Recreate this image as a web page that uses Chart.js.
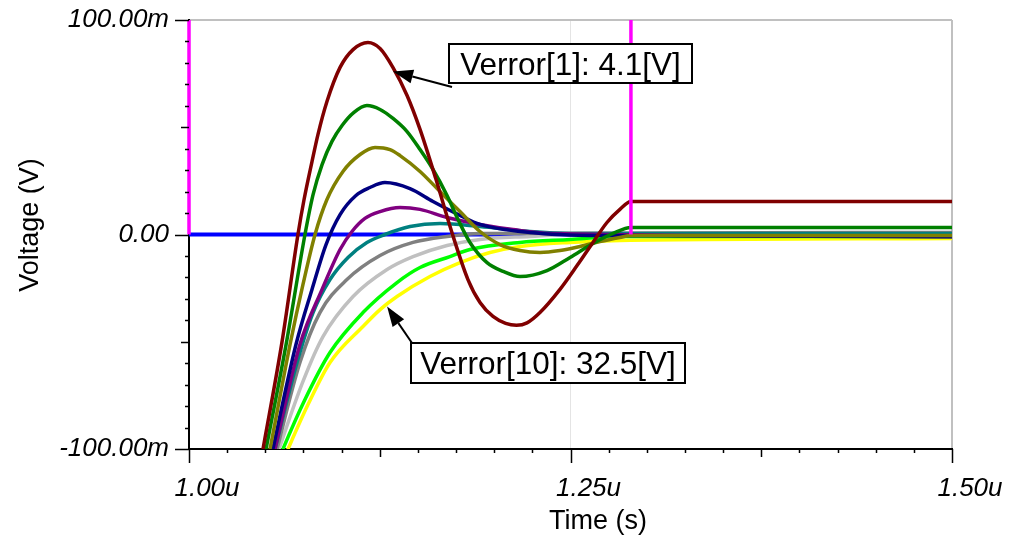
<!DOCTYPE html>
<html>
<head>
<meta charset="utf-8">
<script src="https://cdn.jsdelivr.net/npm/chart.js@4.4.0/dist/chart.umd.min.js"></script>
<style>
  html, body { margin: 0; padding: 0; background: #fff; }
  #wrap { width: 1012px; height: 544px; }
</style>
</head>
<body>
<div id="wrap"><canvas id="myChart" width="1012" height="544"></canvas></div>
<script>
// time in us, voltage in mV
const verror1 = [[1.046,-110],[1.0485,-100],[1.0609,-50.3],[1.0714,0],[1.0754,16.3],[1.0806,34],[1.0845,46.6],[1.0904,62],[1.099,77.9],[1.1075,86.2],[1.1173,89.5],[1.1252,86.7],[1.1337,77.8],[1.1429,64.8],[1.1514,49],[1.1619,25.6],[1.1723,0.9],[1.1828,-21],[1.1907,-31.7],[1.1992,-38.2],[1.2075,-41.4],[1.2146,-42.3],[1.2215,-41.2],[1.23,-36.4],[1.2431,-25.6],[1.2543,-14.5],[1.2647,-3.7],[1.2739,5.6],[1.2824,11.7],[1.2896,15.4],[1.5,15.4]];
const verror2 = [[1.0478,-110],[1.0505,-100],[1.0642,-49],[1.076,0],[1.0813,18.6],[1.0872,32.6],[1.0937,43.4],[1.1003,50.8],[1.1081,56.9],[1.1166,60.1],[1.1252,58.3],[1.1337,54.1],[1.1429,48],[1.1514,39.6],[1.1599,30.3],[1.1691,18.2],[1.1763,7],[1.1841,-3.7],[1.1953,-13.1],[1.2058,-17.2],[1.2169,-19.6],[1.2346,-16.8],[1.2497,-10.7],[1.2647,-4.2],[1.2779,0.5],[1.2896,3.3],[1.5,3.3]];
const verror3 = [[1.0503,-110],[1.0531,-100],[1.0662,-51.3],[1.0747,-23.3],[1.0826,0],[1.0904,16.3],[1.1009,29.4],[1.1121,37.3],[1.1219,40.6],[1.1317,39.6],[1.1383,36.8],[1.1514,29.4],[1.1645,20],[1.1776,10.7],[1.1907,1.4],[1.2038,-4.7],[1.2169,-7.5],[1.23,-8.4],[1.2431,-7.5],[1.2562,-5.6],[1.2693,-3.3],[1.2824,-1.4],[1.2896,-0.5],[1.5,-0.5]];
const verror4 = [[1.052,-110],[1.055,-100],[1.0701,-51.3],[1.0806,-25.6],[1.0898,-4.7],[1.099,9.3],[1.1094,18.2],[1.1186,21.9],[1.1284,24.2],[1.1448,21.4],[1.1599,15.4],[1.1776,8.9],[1.1907,4.7],[1.2235,0.9],[1.2693,-0.5],[1.5,-1]];
const verror5 = [[1.0532,-110],[1.0564,-100],[1.0727,-51.3],[1.0872,-25.6],[1.099,-7],[1.1068,1.4],[1.1153,7.5],[1.1252,10.7],[1.1383,12.6],[1.1514,11.7],[1.1691,7.9],[1.1907,4.7],[1.2123,2.3],[1.2366,0.5],[1.5,-0.9]];
const verror6 = [[1.0529,-110],[1.0564,-100],[1.0708,-59.7],[1.0813,-36.4],[1.0924,-21],[1.1042,-10.7],[1.1166,-3.7],[1.1284,0],[1.1448,3.7],[1.1645,5.1],[1.1907,3.7],[1.2235,1.4],[1.2497,0.5],[1.5,0.5]];
const verror7 = [[1.0542,-110],[1.0577,-100],[1.0727,-59.7],[1.0858,-36.4],[1.1035,-21],[1.1252,-9.8],[1.1468,-3.7],[1.1691,-0.9],[1.1907,0.5],[1.5,0.9]];
const verror8 = [[1.0543,-110],[1.059,-100],[1.0747,-68.5],[1.0878,-47.6],[1.1075,-28.9],[1.1298,-16.3],[1.1468,-10.3],[1.1691,-5.1],[1.1907,-2.3],[1.2235,-0.9],[1.2497,0],[1.5,0]];
const verror9 = [[1.0561,-110],[1.0616,-100],[1.076,-76.9],[1.0924,-55],[1.114,-36.4],[1.1363,-22.4],[1.1514,-15.4],[1.171,-10.3],[1.1841,-7],[1.2169,-3.7],[1.2497,-2.3],[1.2824,-0.9],[1.5,-0.9]];
const verror10 = [[1.0589,-110],[1.0649,-100],[1.078,-79.3],[1.0924,-59.7],[1.114,-42.9],[1.1252,-35],[1.1363,-28.9],[1.1579,-19.6],[1.1776,-13.1],[1.1972,-8.4],[1.2169,-5.6],[1.2497,-3.7],[1.2824,-2.8],[1.5,-1.9]];
const zeroRef = [[1.0,0],[1.5,0]];
const cursorA = [[1.0,0],[1.0,100]];
const cursorB = [[1.2896,0],[1.2896,100]];

const seriesNames = ['Verror[1]','Verror[2]','Verror[3]','Verror[4]','Verror[5]','Verror[6]','Verror[7]','Verror[8]','Verror[9]','Verror[10]'];
const seriesData = [verror1, verror2, verror3, verror4, verror5, verror6, verror7, verror8, verror9, verror10];
const seriesColors = ['#800000','#008000','#808000','#000080','#800080','#008080','#808080','#c0c0c0','#00ff00','#ffff00'];

const xTickValues = [1.0, 1.25, 1.5];
const xTickText = ['1.00u', '1.25u', '1.50u'];
const yTickValues = [-100, 0, 100];
const yTickText = ['-100.00m', '0.00', '100.00m'];

const callouts = [
  { text: 'Verror[1]: 4.1[V]', tip: [1.1337, 76], tail: [452, 87], box: [449, 44, 243, 39] },
  { text: 'Verror[10]: 32.5[V]', tip: [1.1298, -33.6], tail: [412, 343], box: [411, 343, 274, 40] }
];

const FONT = '"Liberation Sans", Arial, sans-serif';

function labelFor(values, texts, v) {
  const i = values.findIndex(t => Math.abs(t - v) < 1e-6);
  return i < 0 ? '' : texts[i];
}

const datasets = [
  { label: 'cursor 1', data: cursorA, borderColor: '#ff00ff', borderWidth: 3.5, tension: 0, clip: 3 },
  { label: 'cursor 2', data: cursorB, borderColor: '#ff00ff', borderWidth: 3.5, tension: 0 }
];
seriesData.forEach((d, i) => {
  datasets.push({
    label: seriesNames[i], data: d, borderColor: seriesColors[i], borderWidth: 3.5,
    cubicInterpolationMode: 'monotone'
  });
});
datasets.push({ label: 'zero', data: zeroRef, borderColor: '#0000ff', borderWidth: 4, tension: 0 });

// tick marks of three lengths, drawn outside the plot
const tickMarks = {
  id: 'tickMarks',
  afterDraw(chart) {
    const { ctx, chartArea: a, scales: { x, y } } = chart;
    ctx.save();
    ctx.strokeStyle = '#000';
    ctx.lineWidth = 1.5;
    ctx.beginPath();
    x.ticks.forEach(t => {
      const k = Math.round(t.value * 40);
      const len = k % 10 === 0 ? 14 : (k % 5 === 0 ? 8 : 4);
      const px = Math.round(x.getPixelForValue(t.value)) + 0.5;
      ctx.moveTo(px, a.bottom);
      ctx.lineTo(px, a.bottom + len);
    });
    y.ticks.forEach(t => {
      const k = Math.round(t.value / 10);
      const len = k % 10 === 0 ? 14 : (k % 5 === 0 ? 8 : 4);
      const py = Math.round(y.getPixelForValue(t.value)) + 0.5;
      ctx.moveTo(a.left, py);
      ctx.lineTo(a.left - len, py);
    });
    ctx.stroke();

    // axis titles
    ctx.fillStyle = '#000';
    ctx.font = '27px ' + FONT;
    ctx.textAlign = 'center';
    ctx.textBaseline = 'middle';
    ctx.fillText('Time (s)', 598, 522);
    ctx.save();
    ctx.translate(31, 225);
    ctx.rotate(-Math.PI / 2);
    ctx.fillText('Voltage (V)', 0, 0);
    ctx.restore();

    // callout boxes with arrows
    callouts.forEach(c => {
      const tx = x.getPixelForValue(c.tip[0]);
      const ty = y.getPixelForValue(c.tip[1]);
      const ang = Math.atan2(ty - c.tail[1], tx - c.tail[0]);
      const L = 20, W = 7;
      const bx = tx - L * Math.cos(ang), by = ty - L * Math.sin(ang);
      ctx.strokeStyle = '#000';
      ctx.lineWidth = 2;
      ctx.beginPath();
      ctx.moveTo(c.tail[0], c.tail[1]);
      ctx.lineTo(bx, by);
      ctx.stroke();
      ctx.beginPath();
      ctx.moveTo(tx, ty);
      ctx.lineTo(bx + W * Math.sin(ang), by - W * Math.cos(ang));
      ctx.lineTo(bx - W * Math.sin(ang), by + W * Math.cos(ang));
      ctx.closePath();
      ctx.fillStyle = '#000';
      ctx.fill();
      const [bxl, byt, bw, bh] = c.box;
      ctx.fillStyle = '#fff';
      ctx.fillRect(bxl, byt, bw, bh);
      ctx.strokeRect(bxl, byt, bw, bh);
      ctx.fillStyle = '#000';
      ctx.font = '31.5px ' + FONT;
      ctx.textAlign = 'center';
      ctx.textBaseline = 'alphabetic';
      ctx.fillText(c.text, bxl + bw / 2, byt + bh / 2 + 11);
    });
    ctx.restore();
  }
};

new Chart(document.getElementById('myChart'), {
  type: 'line',
  data: { datasets: datasets },
  options: {
    responsive: false,
    animation: false,
    devicePixelRatio: 1,
    layout: { padding: { left: 0, top: 20, right: 60, bottom: 0 } },
    elements: { point: { radius: 0 }, line: { fill: false, capBezierPoints: false } },
    plugins: { legend: { display: false }, tooltip: { enabled: false } },
    scales: {
      x: {
        type: 'linear', min: 1.0, max: 1.5,
        afterFit: s => { s.height = 95; },
        border: { color: '#000', width: 2 },
        grid: {
          drawTicks: false,
          color: c => Math.abs(c.tick.value - 1.25) < 1e-6 ? '#e4e4e4' : (Math.abs(c.tick.value - 1.5) < 1e-6 ? '#c0c0c0' : 'rgba(0,0,0,0)'),
          lineWidth: c => Math.abs(c.tick.value - 1.5) < 1e-6 ? 2 : 1
        },
        ticks: {
          stepSize: 0.025, autoSkip: false, maxRotation: 0, padding: 24, labelOffset: 18,
          color: '#000', font: { family: FONT, size: 26, style: 'italic' },
          callback: v => labelFor(xTickValues, xTickText, v)
        }
      },
      y: {
        type: 'linear', min: -100, max: 100,
        afterFit: s => { s.width = 189; s.paddingTop = 0; s.paddingBottom = 0; },
        border: { color: '#000', width: 2 },
        grid: {
          drawTicks: false,
          color: c => c.tick.value === 100 ? '#c0c0c0' : 'rgba(0,0,0,0)',
          lineWidth: c => c.tick.value === 100 ? 2 : 1
        },
        ticks: {
          stepSize: 10, autoSkip: false, padding: 20,
          color: '#000', font: { family: FONT, size: 26, style: 'italic' },
          callback: v => labelFor(yTickValues, yTickText, v)
        }
      }
    }
  },
  plugins: [tickMarks]
});
</script>
</body>
</html>
